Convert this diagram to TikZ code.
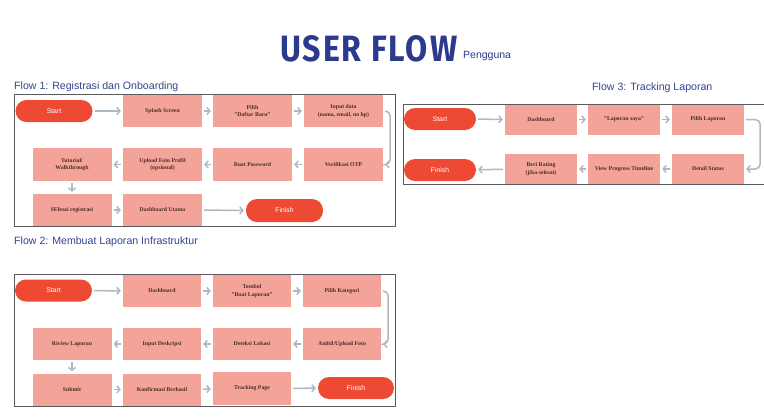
\documentclass[tikz,border=0pt]{standalone}
\usepackage{fontspec}
\setmainfont{Liberation Serif}
\setsansfont{Liberation Sans}
\newfontfamily\headfont{Fira Sans}
\usetikzlibrary{arrows.meta}
\definecolor{stepfill}{HTML}{F4A398}
\definecolor{pillfill}{HTML}{EE4A33}
\definecolor{arrowgray}{HTML}{AAB9C2}
\definecolor{framegray}{HTML}{5A5A5E}
\definecolor{navy}{HTML}{2B3A8C}
\definecolor{titleblue}{HTML}{34448F}
\definecolor{labeltext}{HTML}{4A2E29}
\begin{document}
\begin{tikzpicture}[x=1pt,y=-1pt,
  stepbox/.style={fill=stepfill, minimum width=79pt, minimum height=32pt, inner sep=1pt,
    align=center, text=labeltext, font=\bfseries\fontsize{5.8}{7.4}\selectfont},
  smallbox/.style={stepbox, minimum width=72pt, minimum height=30pt},
  pill/.style={fill=pillfill, rounded corners=11pt, minimum width=77pt, minimum height=22pt,
    text=white, font=\sffamily\fontsize{6.8}{7}\selectfont},
  smallpill/.style={pill, minimum width=72pt},
  arr/.style={draw=arrowgray, line width=1.5pt, shorten <=2pt, shorten >=2pt,
    -{Straight Barb[length=3pt,width=7pt,line width=1.5pt]}},
  frame/.style={draw=framegray, line width=1pt},
  flowtitle/.style={anchor=west, inner sep=0pt, text=titleblue, font=\sffamily\fontsize{10.6}{12}\selectfont}]
\useasboundingbox (0,0) rectangle (764,416);
\fill[white] (0,0) rectangle (764,416);

% heading
\node[inner sep=0pt, anchor=south west, text=navy] (head) at (280,62)
  {\resizebox{177pt}{26pt}{\headfont\bfseries\addfontfeature{LetterSpace=6}USER FLOW}};
\node[inner sep=0pt, anchor=base west, text=navy, font=\sffamily\fontsize{10.5}{12}\selectfont] (sub) at (463,58) {Pengguna};

% ---------- Flow 1 ----------
\node[flowtitle] (t1) at (14,87) {Flow 1: Registrasi dan Onboarding};
\draw[frame] (14,94) rectangle (395,226);
\node[pill] (s1) at (54,111) {Start};
\node[stepbox] (splash) at (162.5,111) {Splash Screen};
\node[stepbox] (pilih) at (252.5,111) {Pilih\\"Daftar Baru"};
\node[stepbox] (input) at (343.5,111) {Input data\\(nama, email, no hp)};
\node[stepbox, minimum height=33pt] (verif) at (343.5,164.5) {Verifikasi OTP};
\node[stepbox, minimum height=33pt] (buat) at (252.5,164.5) {Buat Password};
\node[stepbox, minimum height=33pt] (upload) at (162.5,164.5) {Upload Foto Profil\\(opsional)};
\node[stepbox, minimum height=33pt] (tutor) at (72,164.5) {Tutorial/\\Walkthrough};
\node[stepbox] (selesai) at (72,210) {SElesai registrasi};
\node[stepbox] (dashu) at (162.5,210) {Dashboard Utama};
\node[pill, minimum height=23pt] (f1) at (284.5,210.5) {Finish};
\draw[arr] (s1) -- (splash);
\draw[arr] (splash) -- (pilih);
\draw[arr] (pilih) -- (input);
\draw[arr, rounded corners=5pt] (input.east) -- ++(7,0) |- (verif.east);
\draw[arr] (verif) -- (buat);
\draw[arr] (buat) -- (upload);
\draw[arr] (upload) -- (tutor);
\draw[arr] (tutor) -- (selesai);
\draw[arr] (selesai) -- (dashu);
\draw[arr] (dashu) -- (f1);

% ---------- Flow 2 ----------
\node[flowtitle] (t2) at (14,242) {Flow 2: Membuat Laporan Infrastruktur};
\draw[frame] (14,274) rectangle (395,406);
\node[pill] (s2) at (53.5,290.5) {Start};
\node[stepbox, minimum width=78pt] (dash2) at (162,291) {Dashboard};
\node[stepbox, minimum width=78pt] (tombol) at (252,291) {Tombol\\"Buat Laporan"};
\node[stepbox, minimum width=78pt] (kat) at (342,291) {Pilih Kategori};
\node[stepbox, minimum width=78pt] (ambil) at (342,344) {Ambil/Upload Foto};
\node[stepbox, minimum width=78pt] (deteksi) at (252,344) {Deteksi Lokasi};
\node[stepbox, minimum width=78pt] (desk) at (162,344) {Input Deskripsi};
\node[stepbox] (riview) at (72,344) {Riview Laporan};
\node[stepbox] (submit) at (72,389.5) {Submit};
\node[stepbox, minimum width=78pt] (konf) at (162,389.5) {Konfirmasi Berhasil};
\node[stepbox, minimum width=78pt, minimum height=33pt] (track) at (252,388.5) {Tracking Page};
\node[pill, minimum width=76pt] (f2) at (356,388) {Finish};
\draw[arr] (s2) -- (dash2);
\draw[arr] (dash2) -- (tombol);
\draw[arr] (tombol) -- (kat);
\draw[arr, rounded corners=5pt] (kat.east) -- ++(7,0) |- (ambil.east);
\draw[arr] (ambil) -- (deteksi);
\draw[arr] (deteksi) -- (desk);
\draw[arr] (desk) -- (riview);
\draw[arr] (riview) -- (submit);
\draw[arr] (submit) -- (konf);
\draw[arr] (konf) -- (track);
\draw[arr] (track) -- (f2);

% ---------- Flow 3 ----------
\node[flowtitle] (t3) at (592,88) {Flow 3: Tracking Laporan};
\draw[frame] (770,104) -- (403,104) -- (403,184) -- (770,184);
\node[smallpill] (s3) at (440,119) {Start};
\node[smallbox] (dash3) at (541,119.5) {Dashboard};
\node[smallbox] (saya) at (624,119.5) {"Laporan saya"};
\node[smallbox] (pl) at (708,119.5) {Pilih Laporan};
\node[smallbox] (detail) at (708,169) {Detail Status};
\node[smallbox] (view) at (624,169) {View Progress Timeline};
\node[smallbox] (beri) at (541,169) {Beri Rating\\(jika selesai)};
\node[smallpill] (f3) at (440,170) {Finish};
\draw[arr] (s3) -- (dash3);
\draw[arr] (dash3) -- (saya);
\draw[arr] (saya) -- (pl);
\draw[arr, rounded corners=5pt] (pl.east) -- ++(16,0) |- (detail.east);
\draw[arr] (detail) -- (view);
\draw[arr] (view) -- (beri);
\draw[arr] (beri) -- (f3);
\end{tikzpicture}
\end{document}
